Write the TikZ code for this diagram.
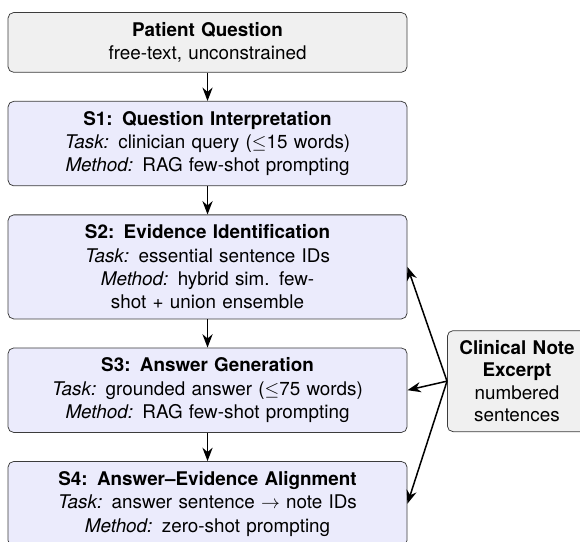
\documentclass[tikz,border=0pt]{standalone}
\usepackage{fontspec}
\setmainfont{TeX Gyre Heros}
\usepackage{tikz}
\usetikzlibrary{arrows.meta,positioning}
\definecolor{qgray}{HTML}{F0F0F0}
\definecolor{stageblue}{HTML}{EBEBFC}
\definecolor{edgegray}{HTML}{3C3C3C}

\begin{document}
\begin{tikzpicture}[node distance=15pt,
  stage/.style={draw=edgegray, rounded corners=3pt, fill=stageblue, text width=200pt, align=center, inner xsep=5.85pt, inner ysep=5.2pt, font=\fontsize{10pt}{12.4pt}\selectfont},
  flow/.style={-{Stealth[length=2.5mm,width=1.9mm]}, thick}]
  \useasboundingbox (-110.1pt,-265pt) rectangle (197.6pt,22.5pt);
  \node[stage, fill=qgray] (pq) {\textbf{Patient Question}\\ free-text, unconstrained};
  \node[stage, below=of pq] (s1) {\textbf{S1: Question Interpretation}\\ \textit{Task:} clinician query ($\leq$15 words)\\ \textit{Method:} RAG few-shot prompting};
  \node[stage, below=of s1] (s2) {\textbf{S2: Evidence Identification}\\ \textit{Task:} essential sentence IDs\\ \textit{Method:} hybrid sim. few-\\ shot + union ensemble};
  \node[stage, below=of s2] (s3) {\textbf{S3: Answer Generation}\\ \textit{Task:} grounded answer ($\leq$75 words)\\ \textit{Method:} RAG few-shot prompting};
  \node[stage, below=of s3] (s4) {\textbf{S4: Answer--Evidence Alignment}\\ \textit{Task:} answer sentence $\rightarrow$ note IDs\\ \textit{Method:} zero-shot prompting};
  \node[draw=edgegray, rounded corners=3pt, fill=qgray, text width=65pt, align=center, inner xsep=4.4pt, inner ysep=5pt, right=21pt of s3, yshift=4.8pt] (note) {\textbf{Clinical Note Excerpt}\\ numbered sentences};

  \draw[flow] (pq) -- (s1);
  \draw[flow] (s1) -- (s2);
  \draw[flow] (s2) -- (s3);
  \draw[flow] (s3) -- (s4);
  \draw[flow] (note.west) -- (s2.east);
  \draw[flow] (note.west) -- (s3.east);
  \draw[flow] (note.west) -- (s4.east);
\end{tikzpicture}
\end{document}
